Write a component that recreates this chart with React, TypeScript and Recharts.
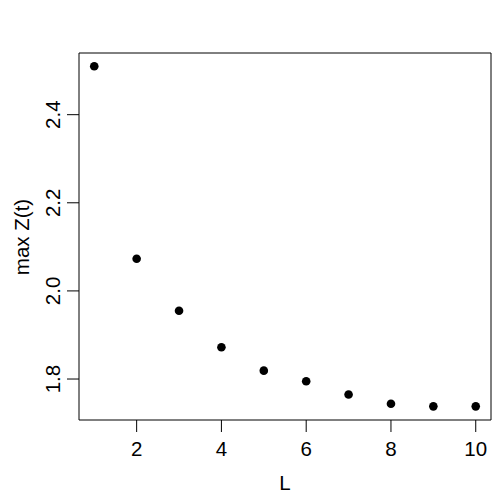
import { ScatterChart, Scatter, XAxis, YAxis, ReferenceArea, Label } from "recharts";

const lValues = [1, 2, 3, 4, 5, 6, 7, 8, 9, 10];
const maxZ = [2.51, 2.073, 1.955, 1.872, 1.819, 1.795, 1.765, 1.744, 1.738, 1.738];
const xTicks = [2, 4, 6, 8, 10];
const yTicks = [1.8, 2.0, 2.2, 2.4];

const xDomain: [number, number] = [0.64, 10.36];
const yDomain: [number, number] = [1.707, 2.54];

const data = lValues.map((l, i) => ({ l, z: maxZ[i] }));

const FONT = "'Liberation Sans', Arial, sans-serif";
const FS = 20.5;

function YTick(props: any) {
  const { y, payload } = props;
  return (
    <text
      x={0}
      y={0}
      transform={`translate(60,${y}) rotate(-90)`}
      textAnchor="middle"
      fontSize={FS}
      fontFamily={FONT}
      fill="#000"
    >
      {payload.value.toFixed(1)}
    </text>
  );
}

function XTick(props: any) {
  const { x, payload } = props;
  return (
    <text x={x} y={456} textAnchor="middle" fontSize={FS} fontFamily={FONT} fill="#000">
      {payload.value}
    </text>
  );
}

const Dot = (props: any) => <circle cx={props.cx} cy={props.cy} r={4.3} fill="#000" />;

export default function App() {
  return (
    <div style={{ position: "absolute", left: 0, top: 0, background: "#fff" }}>
      <ScatterChart width={500} height={500} margin={{ top: 53, right: 9, bottom: 0, left: 0 }}>
        <XAxis
          type="number"
          dataKey="l"
          domain={xDomain}
          ticks={xTicks}
          allowDataOverflow
          axisLine={false}
          tickLine={{ stroke: "#000" }}
          tickSize={12}
          tick={<XTick />}
          height={80}
        >
          <Label
            content={() => (
              <text x={285} y={490} textAnchor="middle" fontSize={FS} fontFamily={FONT} fill="#000">
                L
              </text>
            )}
          />
        </XAxis>
        <YAxis
          type="number"
          dataKey="z"
          domain={yDomain}
          ticks={yTicks}
          allowDataOverflow
          axisLine={false}
          tickLine={{ stroke: "#000" }}
          tickSize={12}
          tick={<YTick />}
          width={79}
        >
          <Label
            content={() => (
              <text
                x={0}
                y={0}
                transform="translate(29,237) rotate(-90)"
                textAnchor="middle"
                fontSize={FS}
                fontFamily={FONT}
                fill="#000"
              >
                max Z(t)
              </text>
            )}
          />
        </YAxis>
        <ReferenceArea
          x1={xDomain[0]}
          x2={xDomain[1]}
          y1={yDomain[0]}
          y2={yDomain[1]}
          stroke="#000"
          strokeWidth={1}
          fill="none"
          fillOpacity={0}
          ifOverflow="visible"
        />
        <Scatter data={data} shape={<Dot />} isAnimationActive={false} />
      </ScatterChart>
    </div>
  );
}
